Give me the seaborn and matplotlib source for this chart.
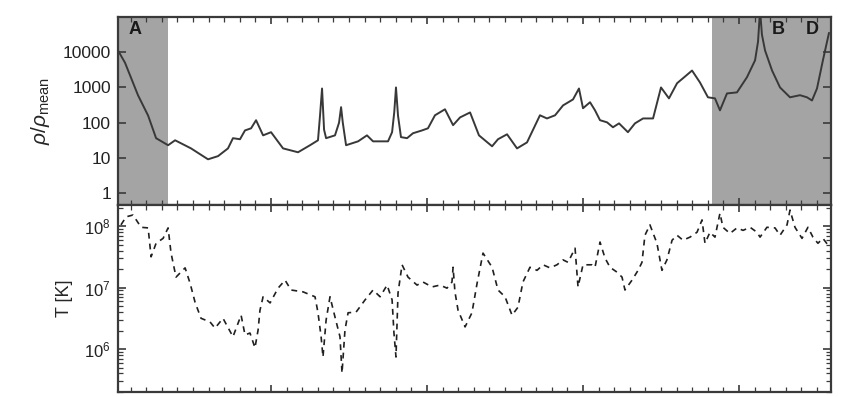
import numpy as np
import matplotlib
matplotlib.use("Agg")
import matplotlib.pyplot as plt
from matplotlib.ticker import FixedLocator, NullFormatter, MultipleLocator, LogLocator
import seaborn as sns

# --------------------
# DATA
# --------------------
# position along the sightline (arbitrary units)
x_rho = [0.19, 0.64, 1.47, 2.12, 2.63, 3.40, 3.85, 4.87, 5.96, 6.60, 7.24, 7.56,
         8.01, 8.33, 8.72, 9.04, 9.49, 10.0, 10.77, 11.73, 12.5, 13.01, 13.14,
         13.27, 13.4, 13.53, 14.1, 14.36, 14.49, 14.6, 14.81, 15.58, 16.15, 16.54,
         17.5, 17.76, 17.9, 18.01, 18.14, 18.33, 18.72, 19.1, 19.68, 20.06, 20.51,
         21.15, 21.67, 22.12, 22.76, 23.33, 24.17, 24.55, 25.13, 25.77, 26.41,
         27.24, 27.69, 28.21, 28.72, 29.36, 29.74, 30.0, 30.45, 30.77, 31.09,
         31.54, 31.92, 32.31, 32.88, 33.33, 33.85, 34.49, 35.0, 35.51, 36.03,
         36.54, 36.99, 37.5, 38.01, 38.46, 38.78, 39.23, 39.87, 40.51, 41.03,
         41.22, 41.35, 41.47, 41.67, 42.12, 42.63, 43.27, 43.91, 44.36, 44.68,
         45.0, 45.38, 45.77]
log_rho = [4.05, 3.70, 2.78, 2.20, 1.56, 1.36, 1.50, 1.27, 0.96, 1.05, 1.27, 1.56,
           1.53, 1.78, 1.84, 2.07, 1.64, 1.73, 1.27, 1.16, 1.36, 1.50, 2.20,
           2.97, 1.80, 1.56, 1.64, 2.00, 2.44, 2.00, 1.36, 1.47, 1.64, 1.47,
           1.47, 1.73, 2.30, 3.00, 2.20, 1.59, 1.56, 1.70, 1.78, 1.84, 2.21,
           2.38, 1.93, 2.15, 2.29, 1.64, 1.33, 1.53, 1.67, 1.27, 1.44,
           2.21, 2.12, 2.21, 2.49, 2.66, 2.97, 2.41, 2.58, 2.35, 2.07,
           2.01, 1.87, 1.98, 1.73, 1.98, 2.12, 2.12, 3.00, 2.69, 3.12,
           3.31, 3.48, 3.14, 2.72, 2.69, 2.35, 2.83, 2.86, 3.29, 3.77,
           4.30, 5.20, 4.50, 4.05, 3.48, 3.00, 2.72, 2.78, 2.72, 2.63,
           2.97, 3.77, 4.55]

x_T = [0.38, 0.71, 1.15, 1.67, 2.12, 2.31, 2.63, 3.08, 3.40, 3.59, 3.91, 4.49,
       4.81, 5.13, 5.51, 6.09, 6.41, 6.92, 7.56, 8.08, 8.33, 8.65, 8.97, 9.17,
       9.29, 9.49, 9.94, 10.45, 10.90, 11.28, 12.05, 12.82, 13.01, 13.21, 13.33,
       13.53, 13.78, 14.10, 14.42, 14.55, 14.74, 14.94, 15.45, 16.03, 16.54,
       16.99, 17.44, 17.76, 17.88, 18.01, 18.14, 18.40, 18.78, 19.36, 19.74,
       20.32, 20.83, 21.28, 21.60, 21.67, 21.79, 21.99, 22.44, 22.88, 23.21,
       23.59, 24.17, 24.55, 25.0, 25.45, 25.83, 26.15, 26.60, 27.05, 27.44,
       27.88, 28.33, 28.72, 29.04, 29.49, 29.68, 30.0, 30.58, 30.77, 31.09,
       31.41, 31.73, 32.18, 32.50, 32.69, 33.14, 33.53, 33.78, 33.97, 34.29,
       34.74, 35.06, 35.38, 35.71, 36.03, 36.41, 36.86, 37.31, 37.63, 37.82,
       38.14, 38.46, 38.78, 38.97, 39.42, 39.87, 40.26, 40.71, 41.15, 41.35,
       41.79, 42.31, 42.63, 43.08, 43.27, 43.59, 44.04, 44.42, 44.74, 45.06,
       45.38, 45.71]
log_T = [8.02, 8.15, 8.18, 7.98, 7.97, 7.50, 7.72, 7.80, 7.97, 7.56, 7.17, 7.32,
         7.07, 6.76, 6.50, 6.44, 6.34, 6.50, 6.20, 6.55, 6.23, 6.26, 6.02, 6.31,
         6.63, 6.85, 6.75, 6.99, 7.12, 6.96, 6.93, 6.85, 6.59, 6.20, 5.87,
         6.47, 6.85, 6.52, 6.20, 5.61, 6.31, 6.59, 6.60, 6.80, 6.96,
         6.85, 7.04, 6.80, 6.26, 5.87, 6.91, 7.37, 7.17, 7.04, 7.09,
         7.01, 7.04, 6.99, 7.09, 7.33, 6.93, 6.63, 6.36, 6.59, 7.07,
         7.56, 7.33, 6.96, 6.85, 6.55, 6.68, 7.09, 7.33, 7.28, 7.37,
         7.32, 7.37, 7.45, 7.41, 7.64, 7.01, 7.37, 7.37, 7.33, 7.74,
         7.48, 7.33, 7.25, 7.17, 6.96, 7.12, 7.28, 7.41, 7.85, 8.02,
         7.72, 7.28, 7.45, 7.77, 7.85, 7.77, 7.82, 7.90, 8.10, 7.72,
         7.90, 7.82, 8.21, 7.98, 7.88, 7.97, 7.93, 7.98, 7.90, 7.82,
         7.98, 7.97, 7.85, 8.02, 8.26, 7.98, 7.80, 7.98, 7.82, 7.72,
         7.80, 7.69]

# shaded regions and their labels
shade_spans = [(0.19, 3.40), (38.27, 45.9)]
region_labels = ["A", "B", "D"]
region_label_x = [1.3, 42.5, 44.7]

rho_ticks = [1, 10, 100, 1000, 10000]
rho_ticklabels = ["1", "10", "100", "1000", "10000"]
T_ticks = [1e6, 1e7, 1e8]
T_ticklabels = [r"$10^6$", r"$10^7$", r"$10^8$"]

# --------------------
# STYLE
# --------------------
sns.set_style("ticks")
plt.rcParams["font.family"] = ["Liberation Sans", "DejaVu Sans"]
plt.rcParams["mathtext.fontset"] = "custom"
plt.rcParams["mathtext.rm"] = "Liberation Sans"
plt.rcParams["mathtext.it"] = "Liberation Sans:italic"

edge = "#3a3a3a"

fig = plt.figure(figsize=(8.46, 3.97), dpi=100)
ax1 = fig.add_axes([0.1395, 0.4836, 0.8428, 0.4736])
ax2 = fig.add_axes([0.1395, 0.0126, 0.8428, 0.4710])

df_rho = {"x": x_rho, "rho": [10 ** v for v in log_rho]}
df_T = {"x": x_T, "T": [10 ** v for v in log_T]}

# --------------------
# TOP PANEL: density
# --------------------
for lo, hi in shade_spans:
    ax1.axvspan(lo, hi, color="#a4a4a4", lw=0, zorder=0)
sns.lineplot(x="x", y="rho", data=df_rho, ax=ax1, sort=False, estimator=None,
             color="#383838", lw=1.4, zorder=3)
ax1.set_yscale("log")
ax1.set_ylim(0.46, 1e5)
ax1.yaxis.set_major_locator(FixedLocator(rho_ticks))
ax1.set_yticklabels(rho_ticklabels)
ax1.set_ylabel(r"$\rho/\rho_{\rm mean}$", fontsize=15, labelpad=8)
ax1.set_xticklabels([])
ax1.tick_params(axis="y", which="major", labelsize=12.5)
for lab, xl in zip(region_labels, region_label_x):
    ax1.text(xl, 4.3e4, lab, fontsize=13, fontweight="bold", ha="center",
             va="center", color="#1a1a1a", zorder=5)

# --------------------
# BOTTOM PANEL: temperature
# --------------------
sns.lineplot(x="x", y="T", data=df_T, ax=ax2, sort=False, estimator=None,
             color="#202020", lw=1.2, linestyle=(0, (3.5, 3.0)), zorder=3)
ax2.set_yscale("log")
ax2.set_ylim(2.0e5, 2.2e8)
ax2.yaxis.set_major_locator(FixedLocator(T_ticks))
ax2.set_yticklabels(T_ticklabels)
ax2.set_ylabel("T [K]", fontsize=13, labelpad=8)
ax2.set_xticklabels([])
ax2.tick_params(axis="y", which="major", labelsize=12)

for ax in (ax1, ax2):
    ax.set_xlim(0.19, 45.9)
    ax.set_xlabel("")
    ax.xaxis.set_major_locator(MultipleLocator(10))
    ax.xaxis.set_minor_locator(MultipleLocator(1))
    ax.yaxis.set_minor_locator(LogLocator(base=10, subs=np.arange(2, 10)))
    ax.yaxis.set_minor_formatter(NullFormatter())
    ax.tick_params(which="both", direction="in", top=True, right=True,
                   colors=edge, labelcolor="#222222")
    ax.tick_params(which="major", length=6, width=1.2, pad=5)
    ax.tick_params(axis="x", which="major", length=5)
    ax.tick_params(which="minor", length=3.5, width=0.9)
    for s in ax.spines.values():
        s.set_color(edge)
        s.set_linewidth(1.6)

fig.savefig("out.png", dpi=100)
